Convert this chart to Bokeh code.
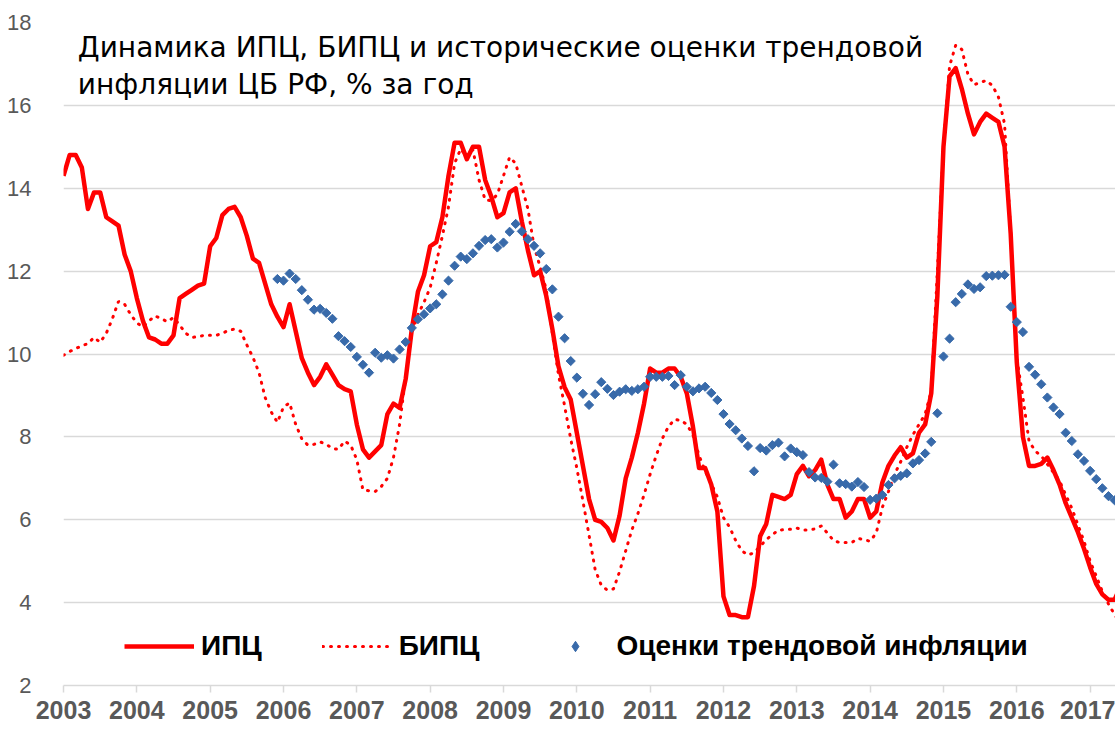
import numpy as np
from bokeh.plotting import figure
from bokeh.models import Range1d, FixedTicker, Label, Legend, LegendItem
from bokeh.embed import file_html
from bokeh.resources import INLINE

# ---------------- data (monthly, % y/y) ----------------
START_YEAR = 2003
year_ticks = list(range(2003, 2018))
y_ticks = [2, 4, 6, 8, 10, 12, 14, 16, 18]

ipc_2003 = [14.3, 14.8, 14.8, 14.5, 13.5, 13.9, 13.9, 13.3, 13.2, 13.1, 12.4, 12.0]
ipc_2004 = [11.35, 10.8, 10.4, 10.35, 10.25, 10.25, 10.45, 11.35, 11.45, 11.55, 11.65, 11.7]
ipc_2005 = [12.6, 12.8, 13.35, 13.5, 13.55, 13.3, 12.85, 12.3, 12.2, 11.7, 11.2, 10.9]
ipc_2006 = [10.65, 11.2, 10.55, 9.9, 9.55, 9.25, 9.45, 9.75, 9.5, 9.25, 9.15, 9.1]
ipc_2007 = [8.3, 7.7, 7.5, 7.65, 7.8, 8.55, 8.8, 8.7, 9.4, 10.6, 11.5, 11.9]
ipc_2008 = [12.6, 12.7, 13.3, 14.3, 15.1, 15.1, 14.7, 15.0, 15.0, 14.2, 13.8, 13.3]
ipc_2009 = [13.4, 13.9, 14.0, 13.2, 12.5, 11.9, 12.0, 11.4, 10.6, 9.7, 9.2, 8.9]
ipc_2010 = [8.1, 7.3, 6.5, 6.0, 5.95, 5.8, 5.5, 6.1, 7.0, 7.5, 8.1, 8.8]
ipc_2011 = [9.65, 9.55, 9.55, 9.65, 9.65, 9.45, 9.05, 8.25, 7.25, 7.25, 6.85, 6.2]
ipc_2012 = [4.15, 3.7, 3.7, 3.65, 3.65, 4.4, 5.6, 5.9, 6.6, 6.55, 6.5, 6.6]
ipc_2013 = [7.1, 7.3, 7.05, 7.2, 7.45, 6.85, 6.5, 6.5, 6.05, 6.2, 6.5, 6.5]
ipc_2014 = [6.05, 6.2, 6.9, 7.3, 7.55, 7.75, 7.5, 7.6, 8.1, 8.3, 9.05, 11.4]
ipc_2015 = [15.0, 16.7, 16.9, 16.4, 15.8, 15.3, 15.6, 15.8, 15.7, 15.6, 15.0, 12.9]
ipc_2016 = [9.8, 8.0, 7.3, 7.3, 7.35, 7.5, 7.2, 6.85, 6.4, 6.05, 5.7, 5.3]
ipc_2017 = [4.85, 4.45, 4.2, 4.07, 4.07, 4.4]

bipc_2003 = [9.97, 10.06, 10.13, 10.2, 10.25, 10.4, 10.28, 10.5, 10.85, 11.27, 11.2, 10.95]
bipc_2004 = [10.75, 10.65, 10.8, 10.92, 10.85, 10.78, 10.88, 10.7, 10.5, 10.4, 10.42, 10.45]
bipc_2005 = [10.45, 10.45, 10.5, 10.57, 10.6, 10.55, 10.22, 9.92, 9.55, 8.95, 8.6, 8.35]
bipc_2006 = [8.72, 8.82, 8.3, 7.95, 7.8, 7.82, 7.88, 7.82, 7.72, 7.7, 7.9, 7.8]
bipc_2007 = [7.45, 6.72, 6.7, 6.68, 6.8, 7.0, 7.5, 8.3, 9.45, 10.5, 10.95, 11.25]
bipc_2008 = [11.6, 12.2, 12.85, 13.55, 14.6, 14.95, 14.75, 14.93, 14.2, 13.72, 13.7, 13.85]
bipc_2009 = [14.3, 14.75, 14.6, 14.05, 13.5, 12.6, 12.1, 11.55, 10.5, 9.5, 8.75, 7.95]
bipc_2010 = [7.25, 6.45, 5.63, 4.8, 4.42, 4.3, 4.33, 4.75, 5.25, 5.75, 6.15, 6.6]
bipc_2011 = [7.1, 7.55, 7.96, 8.25, 8.42, 8.4, 8.3, 8.05, 7.55, 7.18, 6.87, 6.55]
bipc_2012 = [6.05, 5.82, 5.5, 5.25, 5.15, 5.2, 5.36, 5.52, 5.64, 5.75, 5.76, 5.77]
bipc_2013 = [5.8, 5.75, 5.75, 5.78, 5.85, 5.68, 5.5, 5.45, 5.45, 5.45, 5.55, 5.52]
bipc_2014 = [5.48, 5.68, 6.3, 6.68, 7.1, 7.4, 7.75, 8.05, 8.3, 8.55, 9.1, 12.0]
bipc_2015 = [15.0, 16.95, 17.45, 17.35, 16.75, 16.5, 16.55, 16.6, 16.48, 16.2, 15.55, 12.9]
bipc_2016 = [9.9, 8.95, 7.9, 7.66, 7.54, 7.34, 7.14, 6.94, 6.6, 6.28, 5.88, 5.48]
bipc_2017 = [5.0, 4.64, 4.27, 3.97, 3.71, 3.5]

# trend inflation estimates start in December 2005
TREND_START_MONTH = 35
trend_2005 = [11.81]
trend_2006 = [11.77, 11.94, 11.81, 11.54, 11.31, 11.07, 11.09, 10.99, 10.85, 10.43, 10.31, 10.17]
trend_2007 = [9.93, 9.74, 9.55, 10.03, 9.91, 9.97, 9.89, 10.11, 10.29, 10.63, 10.84, 10.96]
trend_2008 = [11.1, 11.2, 11.44, 11.77, 12.13, 12.35, 12.29, 12.43, 12.61, 12.75, 12.77, 12.57]
trend_2009 = [12.69, 12.95, 13.14, 12.96, 12.77, 12.61, 12.43, 12.05, 11.56, 10.9, 10.38, 9.83]
trend_2010 = [9.43, 9.04, 8.77, 9.03, 9.32, 9.16, 9.01, 9.09, 9.15, 9.11, 9.15, 9.21]
trend_2011 = [9.45, 9.45, 9.45, 9.47, 9.25, 9.49, 9.21, 9.1, 9.17, 9.21, 9.06, 8.89]
trend_2012 = [8.55, 8.31, 8.16, 7.96, 7.78, 7.17, 7.73, 7.67, 7.8, 7.86, 7.53, 7.72]
trend_2013 = [7.63, 7.56, 7.15, 7.02, 7.01, 6.92, 7.33, 6.88, 6.86, 6.8, 6.91, 6.79]
trend_2014 = [6.48, 6.51, 6.6, 6.84, 7.0, 7.06, 7.12, 7.36, 7.44, 7.6, 7.88, 8.57]
trend_2015 = [9.94, 10.37, 11.25, 11.45, 11.68, 11.57, 11.61, 11.88, 11.89, 11.9, 11.91, 11.14]
trend_2016 = [10.77, 10.53, 9.69, 9.5, 9.27, 8.95, 8.71, 8.55, 8.1, 7.9, 7.58, 7.42]
trend_2017 = [7.18, 6.98, 6.76, 6.57, 6.47]

title_line1 = "Динамика ИПЦ, БИПЦ и исторические оценки трендовой"
title_line2 = "инфляции ЦБ РФ, % за год"
label_ipc = "ИПЦ"
label_bipc = "БИПЦ"
label_trend = "Оценки трендовой инфляции"

# ---------------- assemble ----------------
ipc = (ipc_2003 + ipc_2004 + ipc_2005 + ipc_2006 + ipc_2007 + ipc_2008 + ipc_2009 +
       ipc_2010 + ipc_2011 + ipc_2012 + ipc_2013 + ipc_2014 + ipc_2015 + ipc_2016 + ipc_2017)
bipc = (bipc_2003 + bipc_2004 + bipc_2005 + bipc_2006 + bipc_2007 + bipc_2008 + bipc_2009 +
        bipc_2010 + bipc_2011 + bipc_2012 + bipc_2013 + bipc_2014 + bipc_2015 + bipc_2016 + bipc_2017)
trend = (trend_2005 + trend_2006 + trend_2007 + trend_2008 + trend_2009 + trend_2010 +
         trend_2011 + trend_2012 + trend_2013 + trend_2014 + trend_2015 + trend_2016 + trend_2017)

x_ipc = [START_YEAR + i / 12 for i in range(len(ipc))]
x_bipc = [START_YEAR + i / 12 for i in range(len(bipc))]
x_trend = [START_YEAR + (TREND_START_MONTH + i) / 12 for i in range(len(trend))]

# ---------------- figure ----------------
X_END = 2017.346
p = figure(width=1115, height=729, output_backend="svg", toolbar_location=None,
           x_range=Range1d(START_YEAR, X_END), y_range=Range1d(2, 18),
           min_border_left=63, min_border_right=0, min_border_top=22, min_border_bottom=44)
p.outline_line_color = None
p.background_fill_color = "white"
p.border_fill_color = "white"

GRID = "#d9d9d9"
LABEL_GRAY = "#595959"
BLUE = "#386aaa"

p.xaxis.ticker = FixedTicker(ticks=year_ticks)
p.xaxis.axis_line_color = GRID
p.xaxis.axis_line_width = 1.5
p.xaxis.major_tick_line_color = GRID
p.xaxis.major_tick_line_width = 1.5
p.xaxis.major_tick_in = 0
p.xaxis.major_tick_out = 7
p.xaxis.minor_tick_line_color = None
p.xaxis.major_label_text_font = "Liberation Sans"
p.xaxis.major_label_text_font_style = "bold"
p.xaxis.major_label_text_font_size = "25px"
p.xaxis.major_label_text_color = LABEL_GRAY
p.xaxis.major_label_standoff = 8

p.yaxis.ticker = FixedTicker(ticks=y_ticks)
p.yaxis.axis_line_color = None
p.yaxis.major_tick_line_color = None
p.yaxis.minor_tick_line_color = None
p.yaxis.major_label_text_font = "Liberation Sans"
p.yaxis.major_label_text_font_size = "22px"
p.yaxis.major_label_text_color = LABEL_GRAY
p.yaxis.major_label_standoff = 26

p.xgrid.grid_line_color = None
p.ygrid.ticker = FixedTicker(ticks=y_ticks)
p.ygrid.grid_line_color = GRID
p.ygrid.grid_line_width = 1.5

r_ipc = p.line(x_ipc, ipc, line_color="#ff0000", line_width=4.5, line_join="round")
r_bipc = p.line(x_bipc, bipc, line_color="#ff0000", line_width=3, line_dash="1 7",
                line_cap="round")
# diamond-shaped renderer (fully covered by the rotated squares drawn on top);
# it supplies the legend symbol
r_trend_key = p.scatter(x_trend, trend, marker="diamond", size=7,
                        fill_color=BLUE, line_color=BLUE)
r_trend = p.scatter(x_trend, trend, marker="square", angle=np.pi / 4, size=6.5,
                    fill_color=BLUE, line_color=BLUE)

p.add_layout(Label(x=2003.195, y=17.39, text=title_line1, text_font="DejaVu Sans",
                   text_font_size="28px", text_color="black", text_baseline="alphabetic"))
p.add_layout(Label(x=2003.195, y=16.50, text=title_line2, text_font="DejaVu Sans",
                   text_font_size="28px", text_color="black", text_baseline="alphabetic"))

legend = Legend(items=[LegendItem(label=label_ipc, renderers=[r_ipc]),
                       LegendItem(label=label_bipc, renderers=[r_bipc]),
                       LegendItem(label=label_trend, renderers=[r_trend_key])],
                orientation="horizontal", location=(61, 23),
                glyph_width=70, glyph_height=26, label_height=30, label_standoff=7,
                spacing=60, padding=0, margin=0, border_line_color=None,
                background_fill_alpha=0,
                label_text_font="Liberation Sans", label_text_font_style="bold",
                label_text_font_size="28px", label_text_color="black")
p.add_layout(legend)

open("out.html", "w").write(file_html(p, INLINE))
